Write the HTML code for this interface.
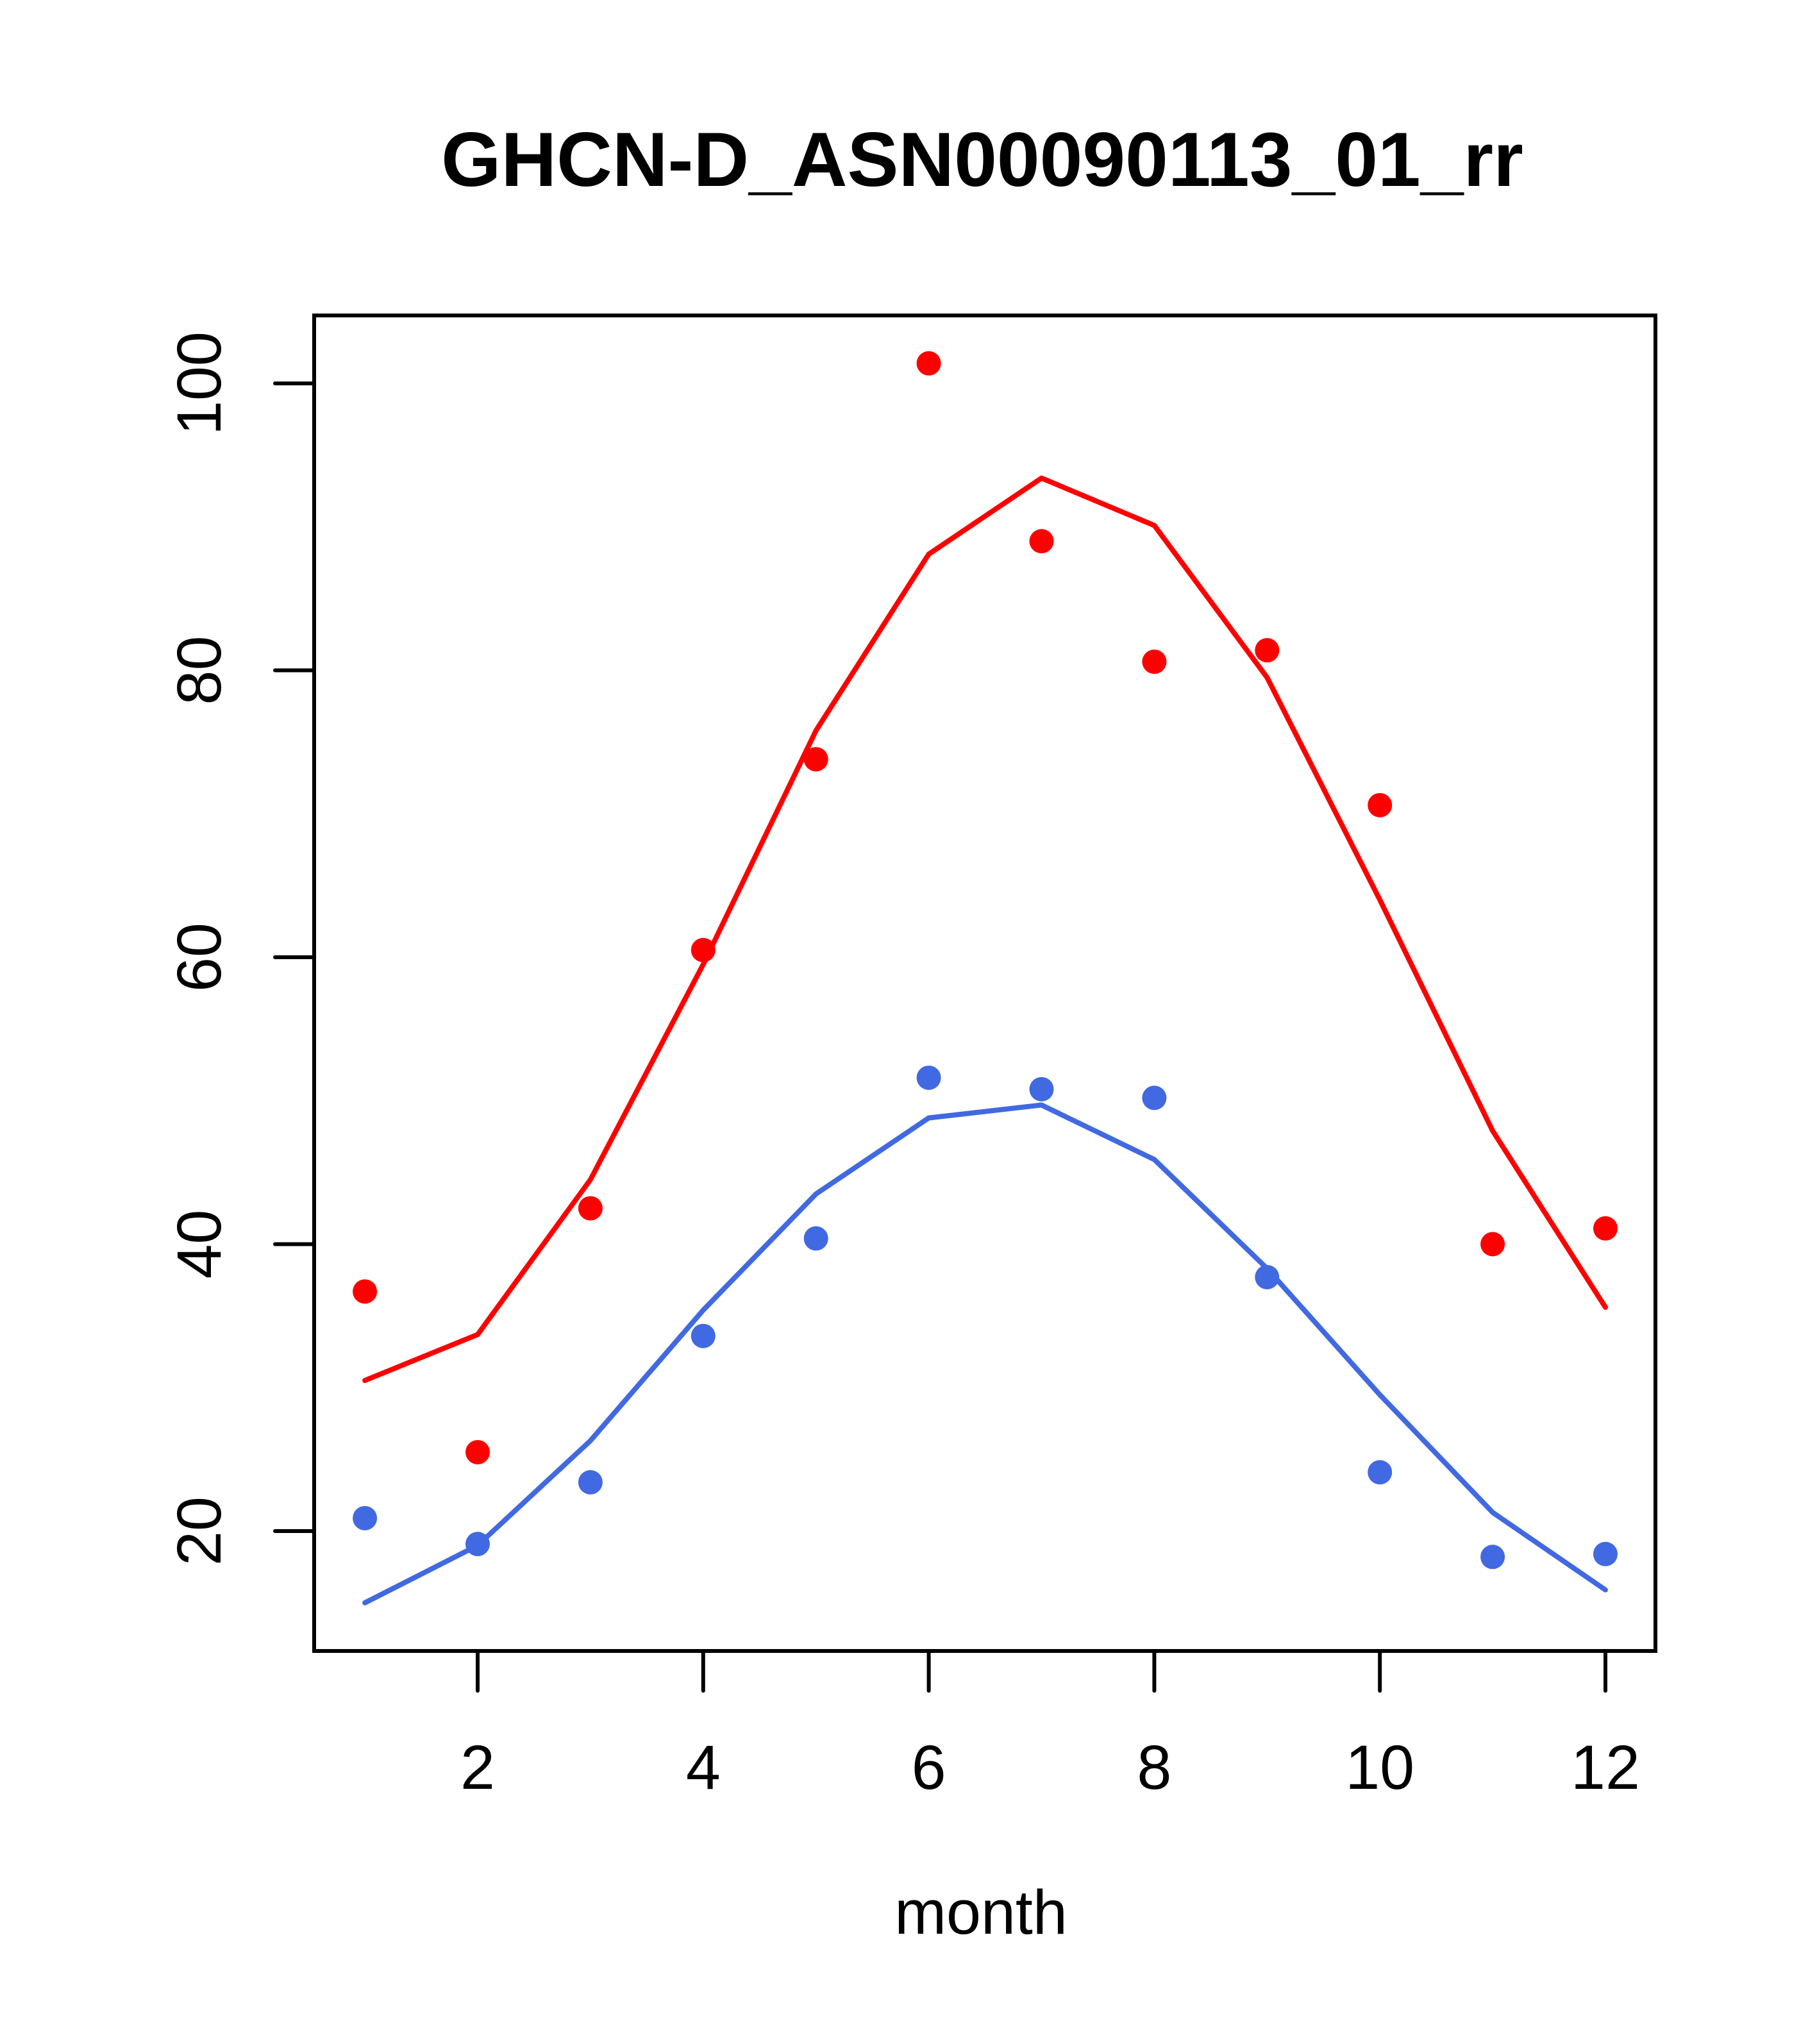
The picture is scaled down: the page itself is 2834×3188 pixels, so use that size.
<!DOCTYPE html>
<html><head><meta charset="utf-8"><style>html,body{margin:0;padding:0;background:#fff}svg{display:block}</style></head>
<body>
<svg id="chart" width="2834" height="3188" xmlns="http://www.w3.org/2000/svg" font-family="Liberation Sans, Arial, sans-serif">
<rect width="2834" height="3188" fill="#fff"/>
<text x="1532" y="290" font-size="120" font-weight="bold" text-anchor="middle">GHCN-D_ASN00090113_01_rr</text>
<text x="1530" y="3016" font-size="97" text-anchor="middle">month</text>
<g id="axes"></g>
<g id="marks"></g>
<rect x="490" y="492" width="2092" height="2083" fill="none" stroke="#000" stroke-width="6"/>
</svg>
<script>
const months = [1,2,3,4,5,6,7,8,9,10,11,12];
const redPoints = [36.7,25.5,42.5,60.5,73.8,101.4,89,80.6,81.4,70.6,40,41.1];
const redLine = [30.5,33.7,44.5,59.5,75.8,88.1,93.4,90.1,79.5,64,47.9,35.6];
const bluePoints = [20.9,19.1,23.4,33.6,40.4,51.6,50.8,50.2,37.7,24.1,18.2,18.4];
const blueLine = [15,19,26.3,35.4,43.5,48.8,49.7,45.9,38.3,29.5,21.3,15.9];
const xTicks = [2,4,6,8,10,12];
const yTicks = [20,40,60,80,100];

const NS = "http://www.w3.org/2000/svg";
function x(m){ return 745 + (m-2)*175.9; }
function y(v){ return 598 + (100-v)*22.375; }
const axes = document.getElementById('axes');
const marks = document.getElementById('marks');
function mk(tag, attrs, parent){ const e=document.createElementNS(NS,tag); for(const k in attrs) e.setAttribute(k,attrs[k]); parent.appendChild(e); return e; }

xTicks.forEach(t=>{
  const l = mk('line',{x1:x(t),x2:x(t),y1:2575,y2:2637,stroke:'#000','stroke-width':6,'stroke-linecap':'round'},axes);
  
  
  const tx = mk('text',{x:x(t),y:2790,'font-size':97,'text-anchor':'middle'},axes);
  tx.textContent = t;
  
  
});
yTicks.forEach(t=>{
  const l = mk('line',{x1:429,x2:490,y1:y(t),y2:y(t),stroke:'#000','stroke-width':6,'stroke-linecap':'round'},axes);
  
  
  const tx = mk('text',{x:0,y:0,'font-size':97,'text-anchor':'middle',transform:`translate(344,${y(t)}) rotate(-90)`},axes);
  tx.textContent = t;
  
  
});

function drawLine(vals,color,name){
  const p = mk('polyline',{points:vals.map((v,i)=>x(months[i])+','+y(v)).join(' '),fill:'none',stroke:color,'stroke-width':8,'stroke-linecap':'round','stroke-linejoin':'round'},marks);
  
  
}
function drawPoints(vals,color,name){
  vals.forEach((v,i)=>{
    const c = mk('circle',{cx:x(months[i]),cy:y(v),r:19,fill:color},marks);
    
    
  });
}
drawLine(redLine,'#FF0000','red-fit-line');
drawLine(blueLine,'#4169E1','blue-fit-line');
drawPoints(redPoints,'#FF0000','red-point');
drawPoints(bluePoints,'#4169E1','blue-point');
</script>
</body></html>
